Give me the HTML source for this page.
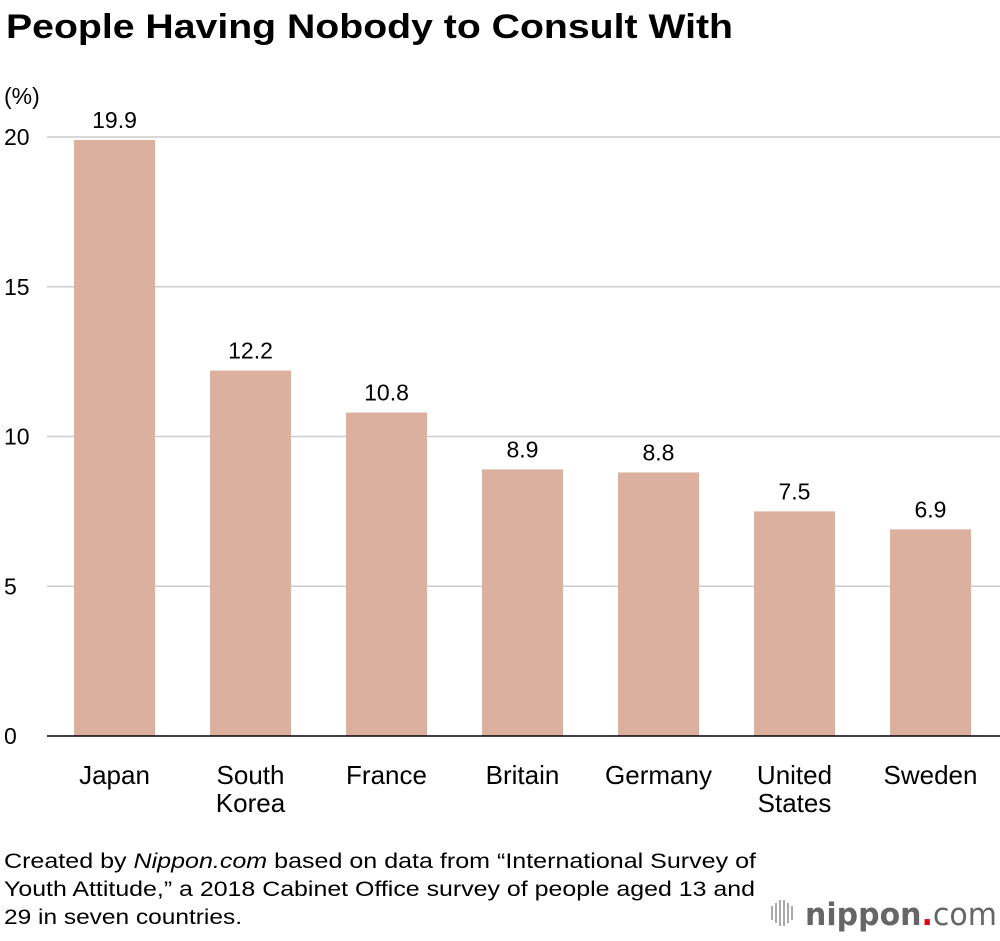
<!DOCTYPE html>
<html><head><meta charset="utf-8"><style>
body{margin:0;background:#fff;width:1000px;height:936px;overflow:hidden;font-family:"Liberation Sans",sans-serif;}
</style></head><body>
<svg width="1000" height="936" xmlns="http://www.w3.org/2000/svg" font-family="Liberation Sans, sans-serif">
<text x="6" y="38" font-size="34" font-weight="bold" fill="#000" textLength="727" lengthAdjust="spacingAndGlyphs">People Having Nobody to Consult With</text>
<text x="4" y="104" font-size="23" fill="#000">(%)</text>
<g id="grid"></g><g id="bars"></g>
<line x1="47" y1="736" x2="1000" y2="736" stroke="#000" stroke-width="1.5"/>
<g font-size="21" fill="#000">
<text x="4" y="868" textLength="752" lengthAdjust="spacingAndGlyphs">Created by <tspan font-style="italic">Nippon.com</tspan> based on data from “International Survey of</text>
<text x="4" y="896" textLength="751" lengthAdjust="spacingAndGlyphs">Youth Attitude,” a 2018 Cabinet Office survey of people aged 13 and</text>
<text x="4" y="924" textLength="238" lengthAdjust="spacingAndGlyphs">29 in seven countries.</text>
</g>
<g>
<g fill="#aaa"><rect x="771" y="906" width="2" height="14"/><rect x="775" y="903" width="2" height="20"/><rect x="779" y="900" width="2" height="26"/><rect x="783" y="900" width="2" height="26"/><rect x="787" y="903" width="2" height="20"/><rect x="791" y="906" width="2" height="14"/></g>
<text x="805" y="925" font-size="31" font-family="DejaVu Sans, sans-serif" font-weight="bold" fill="#666" textLength="192" lengthAdjust="spacingAndGlyphs">nippon<tspan fill="#e60012">.</tspan><tspan font-weight="normal">com</tspan></text>
</g>
</svg>
<script>
const categories=[["Japan"],["South","Korea"],["France"],["Britain"],["Germany"],["United","States"],["Sweden"]];
const values=[19.9,12.2,10.8,8.9,8.8,7.5,6.9];
const valueLabels=["19.9","12.2","10.8","8.9","8.8","7.5","6.9"];
const yTicks=[0,5,10,15,20];
const NS="http://www.w3.org/2000/svg";
const y=v=>736-v*29.95;
const x=i=>74+i*136;
const bw=81;
function mk(t,a,p){const e=document.createElementNS(NS,t);for(const k in a)e.setAttribute(k,a[k]);p.appendChild(e);return e;}
const grid=document.getElementById('grid'),bars=document.getElementById('bars');
yTicks.forEach(t=>{
 if(t>0){const l=mk('line',{x1:47,x2:1000,y1:y(t),y2:y(t),stroke:'#ccc','stroke-width':1.5},grid);
 
 }
 const tx=mk('text',{x:4,y:y(t)+8,'font-size':23,fill:'#000'},grid);tx.textContent=t;
 
 
});
values.forEach((v,i)=>{
 const r=mk('rect',{x:x(i),y:y(v),width:bw,height:736-y(v),fill:'#dbb09e'},bars);
 
 
 const lb=mk('text',{x:x(i)+bw/2,y:y(v)-12,'font-size':23,'text-anchor':'middle',fill:'#000'},bars);lb.textContent=valueLabels[i];
 
 
 categories[i].forEach((w,j)=>{
  const c=mk('text',{x:x(i)+bw/2,y:784+j*28,'font-size':26,'text-anchor':'middle',fill:'#000'},bars);c.textContent=w;
  
  
 });
});
</script>
</body></html>
